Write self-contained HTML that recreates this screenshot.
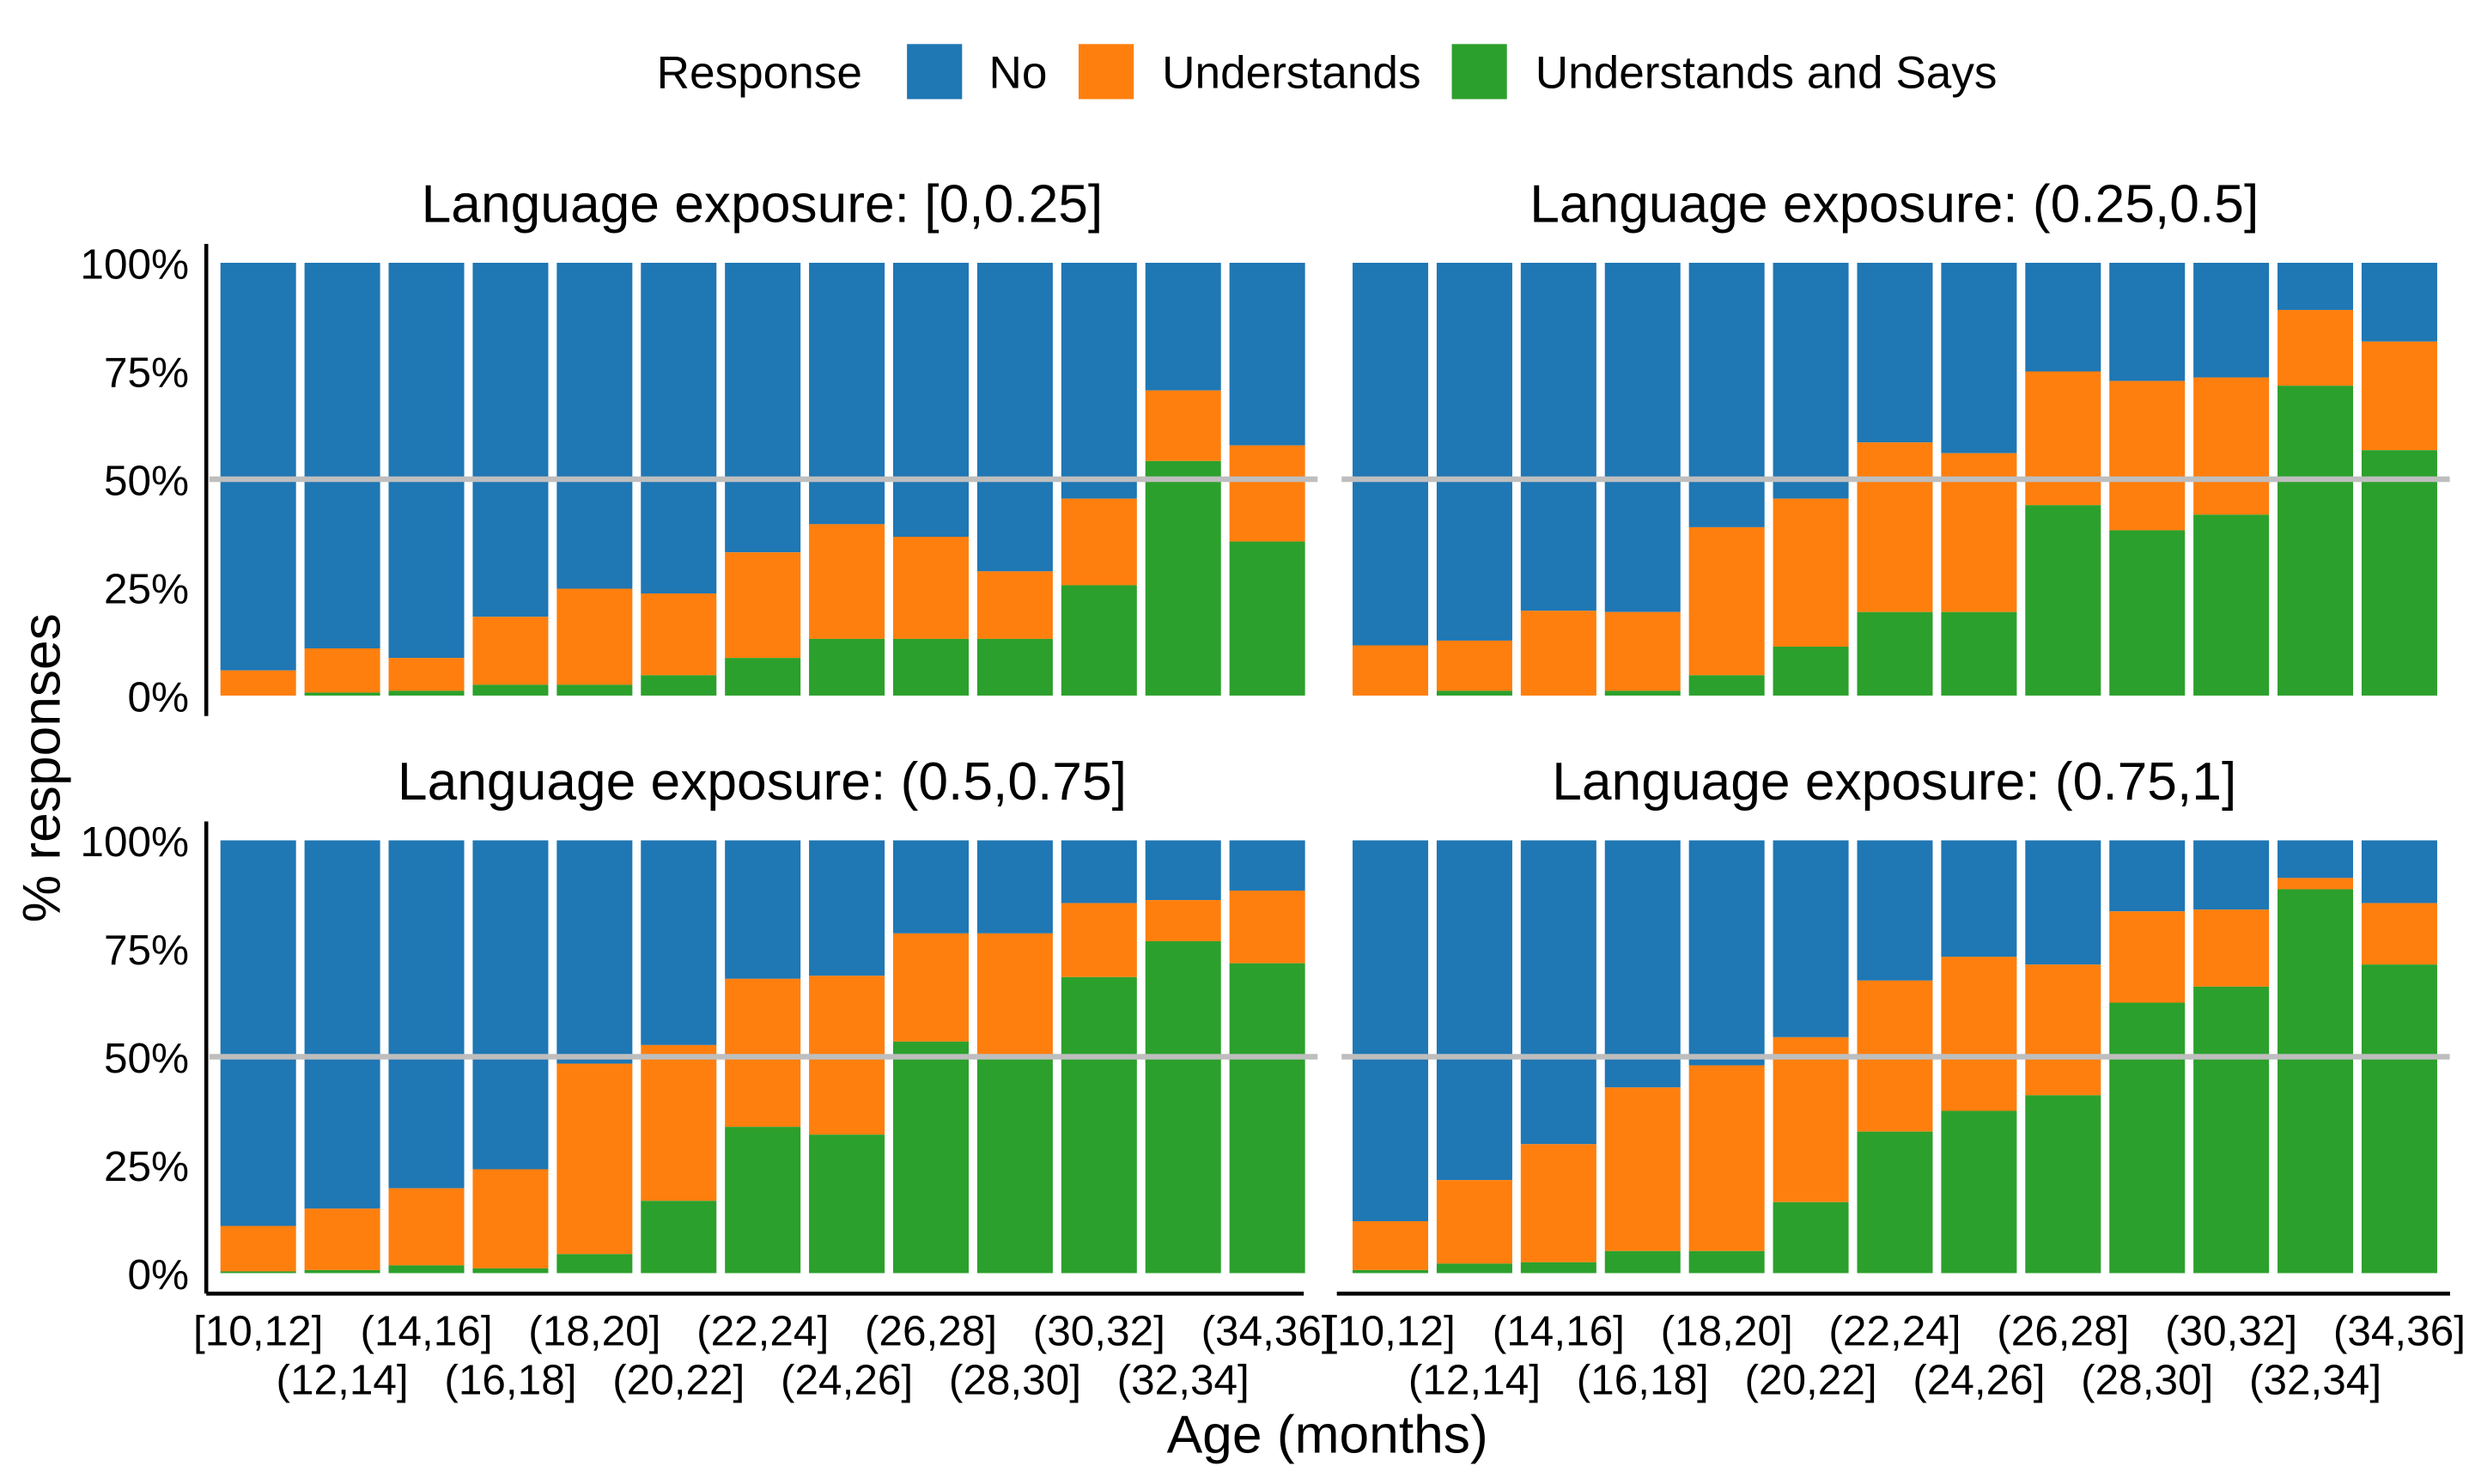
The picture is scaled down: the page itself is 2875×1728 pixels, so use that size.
<!DOCTYPE html>
<html><head><meta charset="utf-8"><style>
html,body{margin:0;padding:0;background:#fff;}
svg{display:block;font-family:"Liberation Sans",sans-serif;}
</style></head><body>
<svg id="chart" width="2875" height="1728" viewBox="0 0 1568 943" preserveAspectRatio="none" xmlns="http://www.w3.org/2000/svg">
<g font-size="29" fill="#000">
<text x="417" y="56">Response</text>
<rect x="576" y="28" width="35" height="35" fill="#1f77b4"/>
<text x="628" y="56">No</text>
<rect x="685" y="28" width="35" height="35" fill="#ff7f0e"/>
<text x="738" y="56">Understands</text>
<rect x="922" y="28" width="35" height="35" fill="#2ca02c"/>
<text x="975" y="56">Understands and Says</text>
</g>
<text x="38" y="488" font-size="34" text-anchor="middle" transform="rotate(-90 38 488)">% responses</text>
<text x="843" y="923" font-size="34" text-anchor="middle">Age (months)</text>
<g id="panels"></g>
</svg>
<script>
const categories=["[10,12]","(12,14]","(14,16]","(16,18]","(18,20]","(20,22]","(22,24]","(24,26]","(26,28]","(28,30]","(30,32]","(32,34]","(34,36]"];
const panelTitles=["Language exposure: [0,0.25]","Language exposure: (0.25,0.5]","Language exposure: (0.5,0.75]","Language exposure: (0.75,1]"];
const yTicks=[0,25,50,75,100];
const yTickLabels=["0%","25%","50%","75%","100%"];
// cumulative tops (%): says, understands+says
const says0=[0,0.7,1.1,2.5,2.5,4.7,8.7,13.1,13.1,13.1,25.5,54.2,35.6];
const und0=[5.8,10.9,8.7,18.2,24.7,23.6,33.1,39.6,36.7,28.7,45.5,70.5,57.8];
const says1=[0,1.1,0,1.1,4.7,11.3,19.3,19.3,44,38.2,41.8,71.6,56.7];
const und1=[11.6,12.7,19.6,19.3,38.9,45.5,58.5,56,74.9,72.7,73.5,89.1,81.8];
const says2=[0.4,0.7,1.8,1.1,4.4,16.7,33.8,32,53.5,49.8,68.4,76.7,71.6];
const und2=[10.9,14.9,19.6,24,48.4,52.7,68,68.7,78.5,78.5,85.5,86.2,88.4];
const says3=[0.7,2.2,2.5,5.1,5.1,16.4,32.7,37.5,41.1,62.5,66.2,88.7,71.3];
const und3=[12,21.5,29.8,42.9,48,54.5,67.6,73.1,71.3,83.6,84,91.3,85.5];
const saysAll=[says0,says1,says2,says3], undAll=[und0,und1,und2,und3];
const NS="http://www.w3.org/2000/svg";
const root=document.getElementById('panels');
function mk(tag,attrs,parent){const e=document.createElementNS(NS,tag);for(const k in attrs)e.setAttribute(k,attrs[k]);parent.appendChild(e);return e;}
const px=[140,859], py0=[442,809], step=53.4, bw=48, H=275;
for(let p=0;p<4;p++){
  const col=p%2,row=Math.floor(p/2);
  const x0=px[col], y0=py0[row];
  const g=mk('g',{},root);
  
  
  const ys=v=>y0-v/100*H;
  const xs=i=>x0+i*step;
  const t=mk('text',{x:col?1203:484,y:y0-301,'font-size':34,'text-anchor':'middle'},g);
  t.textContent=panelTitles[p];
  
  
  for(let i=0;i<categories.length;i++){
    const s=saysAll[p][i],u=undAll[p][i];
    const r1=mk('rect',{x:xs(i),y:ys(100),width:bw,height:ys(u)-ys(100),fill:'#1f77b4'},g);
    
    
    const r2=mk('rect',{x:xs(i),y:ys(u),width:bw,height:ys(s)-ys(u),fill:'#ff7f0e'},g);
    
    
    const r3=mk('rect',{x:xs(i),y:ys(s),width:bw,height:y0-ys(s),fill:'#2ca02c'},g);
    
    
  }
  const gl=mk('line',{x1:x0-7,x2:x0+12*step+bw+8,y1:ys(50),y2:ys(50),stroke:'#bebebe','stroke-width':3.5},g);
  
  
  if(col===0){
    const ax=mk('line',{x1:131,x2:131,y1:ys(100)-12,y2:y0+13,stroke:'#000','stroke-width':2.5},g);
    
    
    for(let k=0;k<yTicks.length;k++){
      const tl=mk('text',{x:120,y:ys(yTicks[k])+10,'font-size':27,'text-anchor':'end',fill:'#000'},g);
      tl.textContent=yTickLabels[k];
      
      
    }
  }
  if(row===1){
    const xa=mk('line',{x1:col?849:131,x2:col?1556:828,y1:y0+13,y2:y0+13,stroke:'#000','stroke-width':2.5},g);
    
    
    for(let i=0;i<categories.length;i++){
      const tl=mk('text',{x:xs(i)+bw/2,y:i%2?886:855,'font-size':27,'text-anchor':'middle',fill:'#000'},g);
      tl.textContent=categories[i];
      
      
    }
  }
}
</script>
</body></html>
